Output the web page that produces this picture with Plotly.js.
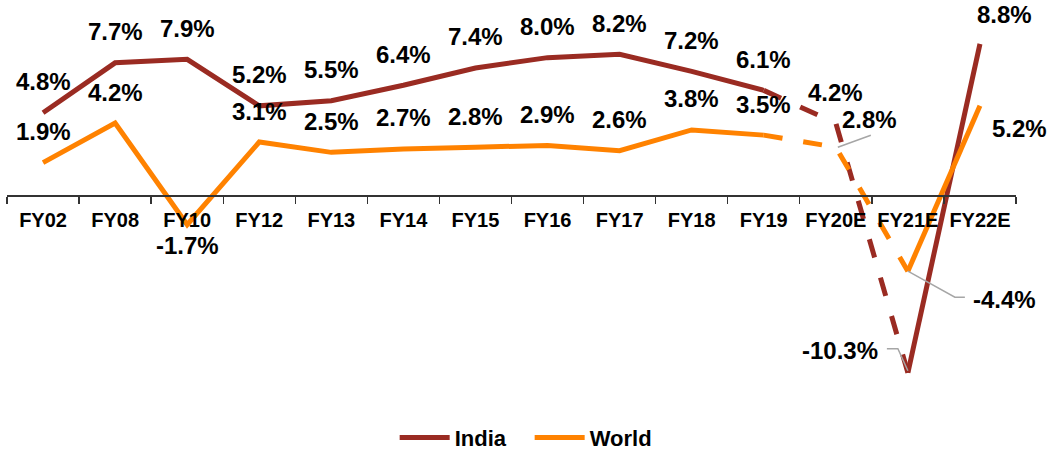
<!DOCTYPE html>
<html>
<head>
<meta charset="utf-8">
<script src="https://cdn.plot.ly/plotly-3.0.1.min.js"></script>
<style>html,body{margin:0;padding:0;background:#fff;}#chart{width:1053px;height:450px;}</style>
</head>
<body>
<div id="chart"></div>
<script>
// ---- data ----
var categories = ["FY02","FY08","FY10","FY12","FY13","FY14","FY15","FY16","FY17","FY18","FY19","FY20E","FY21E","FY22E"];
var india = [4.8, 7.7, 7.9, 5.2, 5.5, 6.4, 7.4, 8.0, 8.2, 7.2, 6.1, 4.2, -10.3, 8.8];
var world = [1.9, 4.2, -1.7, 3.1, 2.5, 2.7, 2.8, 2.9, 2.6, 3.8, 3.5, 2.8, -4.4, 5.2];
var dashFrom = "FY19", dashTo = "FY21E";

// ---- styling ----
var INDIA_C = "#9A2B22", WORLD_C = "#FF8200";
var FONT = "Liberation Sans, Arial, Helvetica, sans-serif";
var i0 = categories.indexOf(dashFrom), i1 = categories.indexOf(dashTo);

function solidPart(arr){ return arr.map(function(v,i){ return (i>i0 && i<i1) ? null : v; }); }
function dashPart(arr){ return arr.map(function(v,i){ return (i>=i0 && i<=i1) ? v : null; }); }

var traces = [
  {x:categories, y:solidPart(india), type:"scatter", mode:"lines", name:"India",
   line:{color:INDIA_C, width:5}, connectgaps:false, hoverinfo:"skip", legendgroup:"india"},
  {x:categories, y:dashPart(india), type:"scatter", mode:"lines", name:"India", showlegend:false,
   line:{color:INDIA_C, width:5, dash:"19px,21px"}, hoverinfo:"skip", legendgroup:"india"},
  {x:categories, y:solidPart(world), type:"scatter", mode:"lines", name:"World",
   line:{color:WORLD_C, width:5}, connectgaps:false, hoverinfo:"skip", legendgroup:"world"},
  {x:categories, y:dashPart(world), type:"scatter", mode:"lines", name:"World", showlegend:false,
   line:{color:WORLD_C, width:5, dash:"19px,21px"}, hoverinfo:"skip", legendgroup:"world"}
];

// label offsets (pixels): default above the point
var indiaShift = {"FY21E":[-68,22], "FY22E":[25,29]};
var worldShift = {"FY10":[0,-21], "FY20E":[34,28], "FY21E":[97,-28], "FY22E":[40,-23]};

var annotations = [];
function addLabels(arr, shifts){
  arr.forEach(function(v,i){
    var s = shifts[categories[i]] || [0,31];
    annotations.push({x:categories[i], y:v, xref:"x", yref:"y", text:v.toFixed(1)+"%",
      showarrow:false, xshift:s[0], yshift:s[1], xanchor:"center", yanchor:"middle",
      font:{family:FONT, size:24, color:"#000", weight:700}});
  });
}
addLabels(india, indiaShift);
addLabels(world, worldShift);

// leader lines (pixel paths anchored on the data point)
function leader(cat, val, path){
  return {type:"path", xref:"x", yref:"y", xsizemode:"pixel", ysizemode:"pixel",
    xanchor:categories.indexOf(cat), yanchor:val, path:path,
    line:{color:"#A6A6A6", width:1.5}};
}
var shapes = [
  leader("FY20E", world[categories.indexOf("FY20E")], "M2,0 L35,12"),
  leader("FY21E", world[categories.indexOf("FY21E")], "M0,0 L47,-26 L57,-26"),
  leader("FY21E", india[categories.indexOf("FY21E")], "M0,2 L-10,24 L-21,24")
];

var layout = {
  width:1053, height:450,
  margin:{l:7, r:37, t:6, b:48, autoexpand:false},
  paper_bgcolor:"#fff", plot_bgcolor:"#fff",
  showlegend:true,
  legend:{orientation:"h", x:0.518, xanchor:"center", y:-0.09, yanchor:"middle",
    font:{family:FONT, size:22, color:"#000", weight:700}, itemwidth:50, entrywidth:70},
  xaxis:{type:"category", range:[-0.5, categories.length-0.5], autorange:false,
    anchor:"free", position:12/23, showline:true, linecolor:"#333", linewidth:1.3,
    ticks:"outside", tickson:"boundaries", ticklen:7, tickcolor:"#333", tickwidth:1.3,
    showgrid:false, zeroline:false, ticklabelstandoff:6, automargin:false, tickangle:0,
    tickfont:{family:FONT, size:20, color:"#000", weight:700}, fixedrange:true},
  yaxis:{range:[-12, 11], autorange:false, visible:false, showgrid:false, zeroline:false, fixedrange:true, automargin:false},
  annotations:annotations,
  shapes:shapes
};

Plotly.newPlot("chart", traces, layout, {displayModeBar:false, staticPlot:true});
</script>
</body>
</html>
